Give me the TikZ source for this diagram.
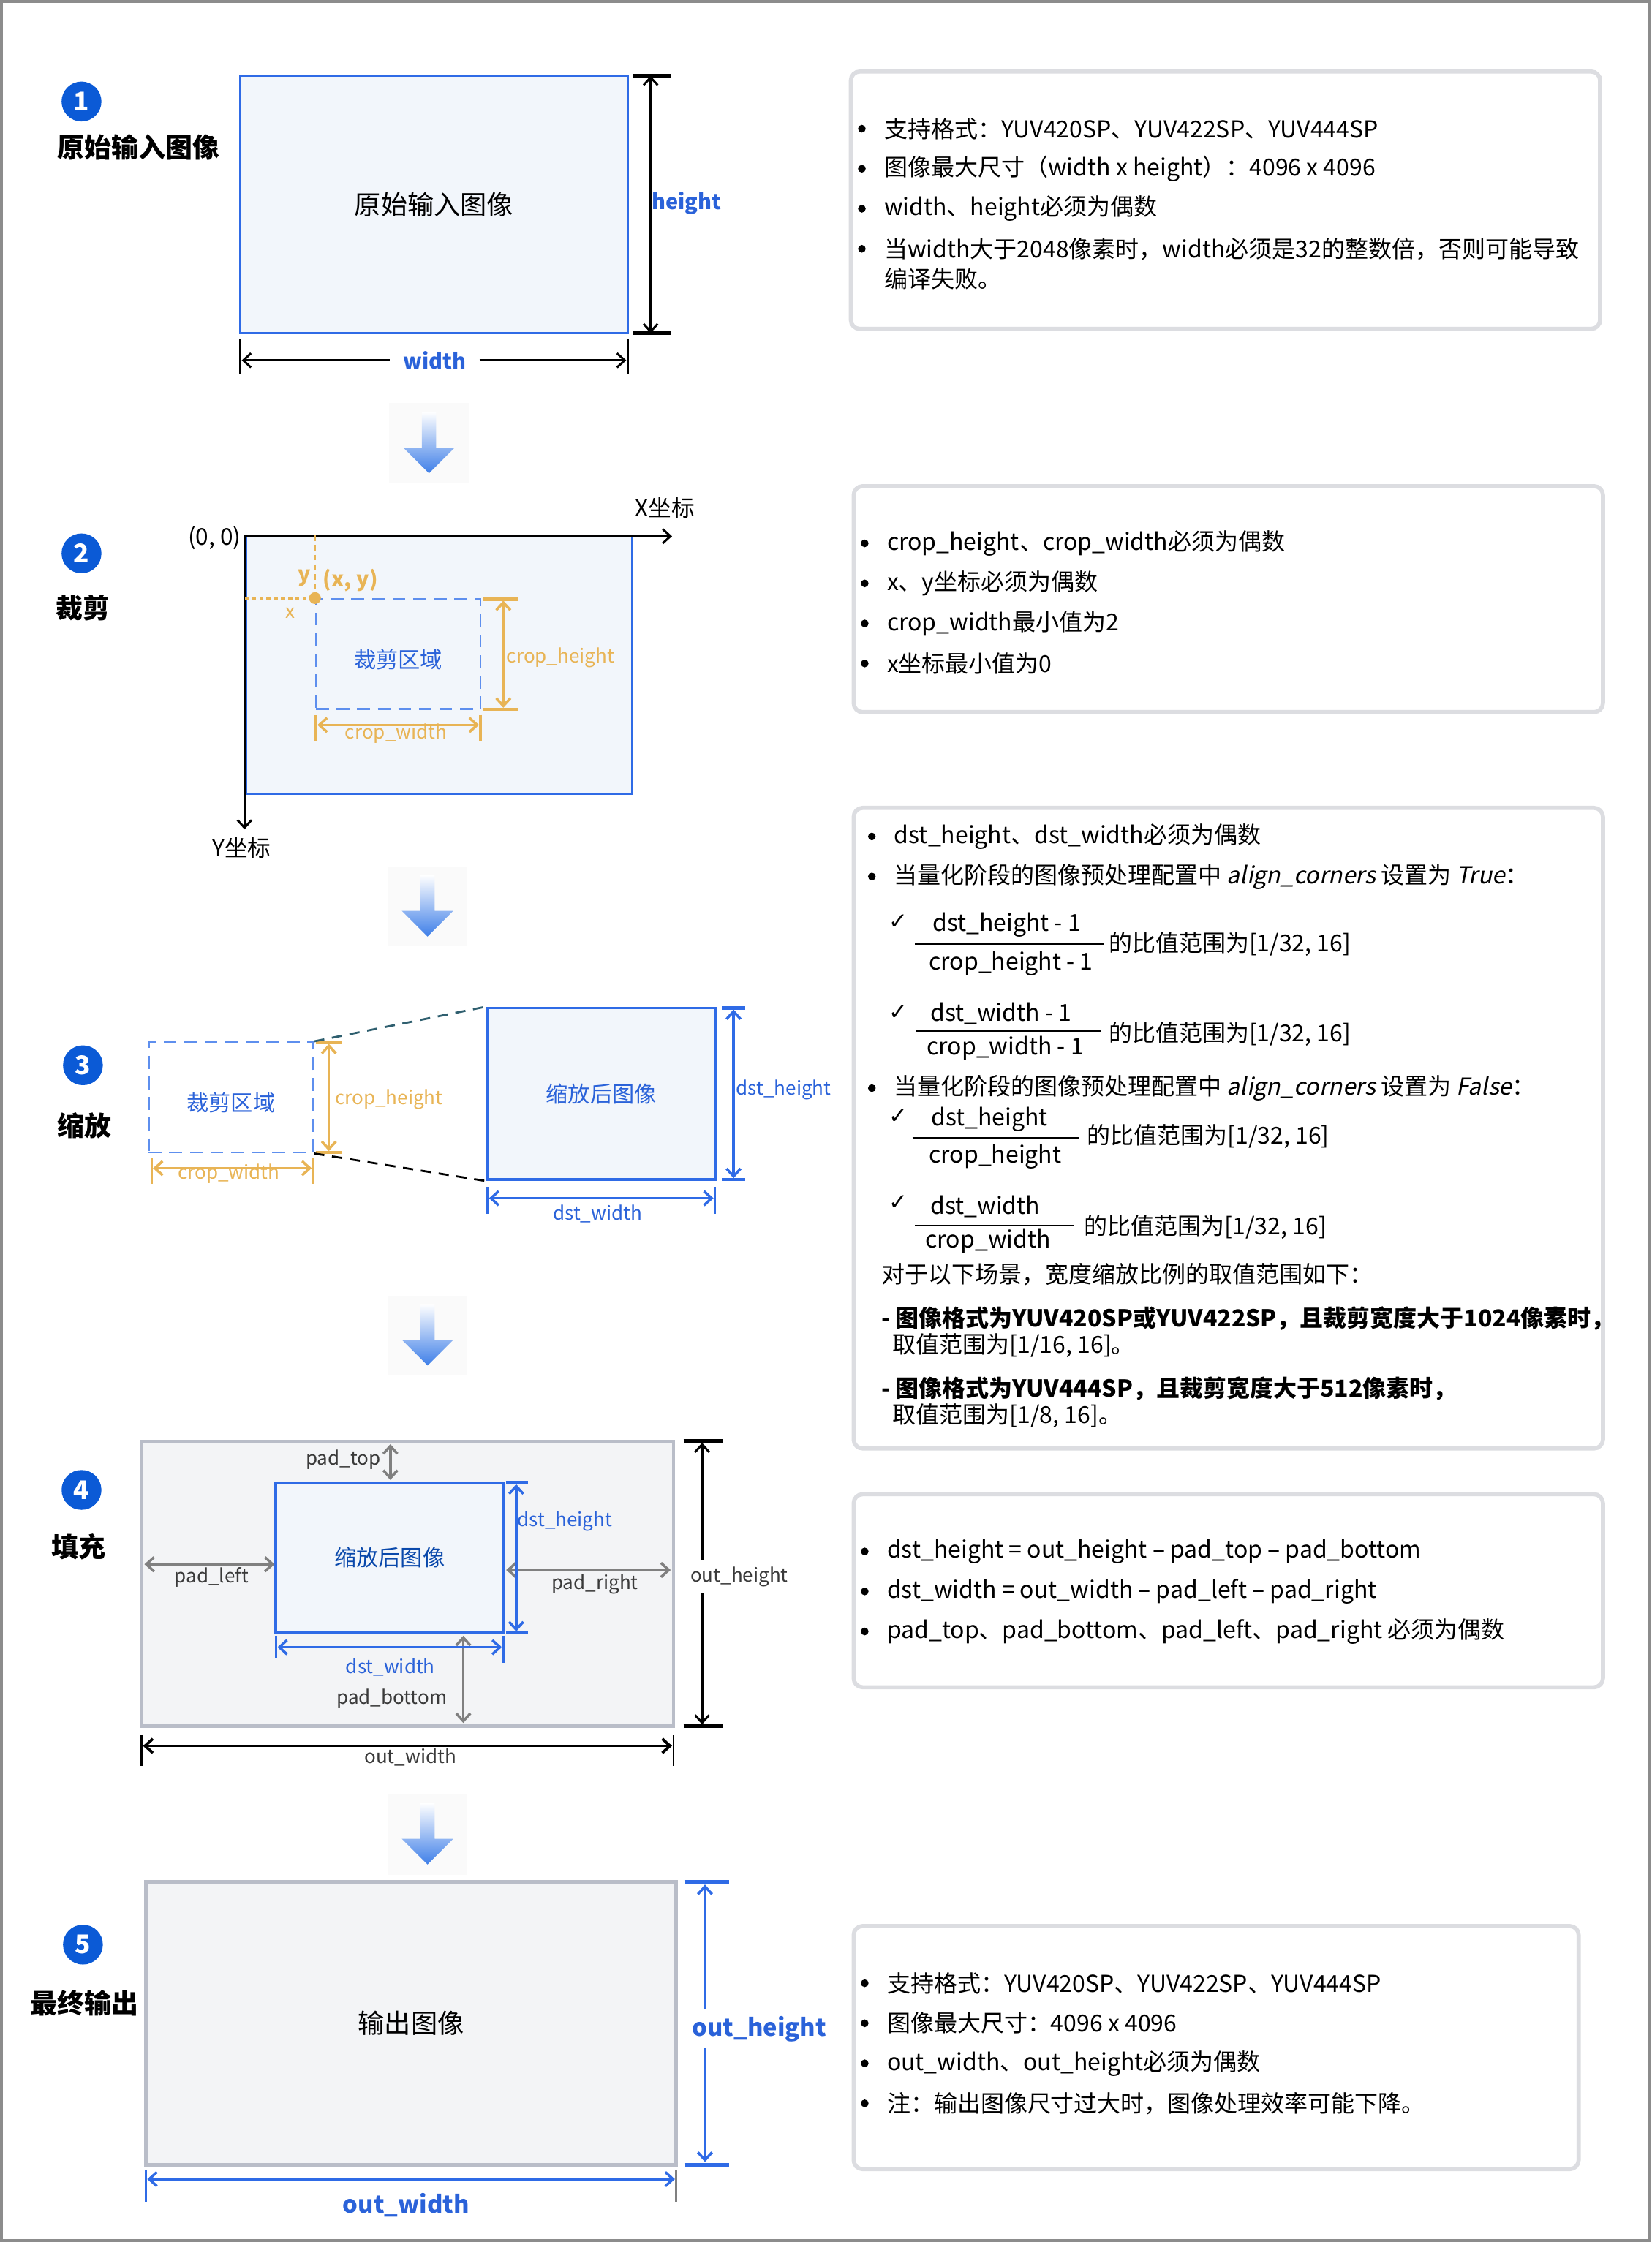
\documentclass[tikz,border=0pt]{standalone}
\usepackage{fontspec}
\setmainfont{Noto Sans CJK SC}[AutoFakeSlant=0.2]
\newfontfamily\symfont{DejaVu Sans}
\usepackage{tikz}
\usetikzlibrary{arrows.meta,calc,fit,positioning}
\definecolor{imgblue}{HTML}{2F6BE6}
\definecolor{imgfill}{HTML}{F2F6FB}
\definecolor{txtblue}{HTML}{2A62D9}
\definecolor{cropdash}{HTML}{5E8FEE}
\definecolor{cropor}{HTML}{E8B455}
\definecolor{padfill}{HTML}{F3F4F6}
\definecolor{padline}{HTML}{B9BDC8}
\definecolor{padarrow}{HTML}{808080}
\definecolor{padtext}{HTML}{3A3A3A}
\definecolor{notegrey}{HTML}{DCDDE1}
\definecolor{stepblue}{HTML}{0B5AD6}
\definecolor{flowblue}{HTML}{3F7FE8}
\definecolor{framegrey}{HTML}{8C8C8C}
\definecolor{tealdash}{HTML}{2F5F6F}
\newcommand\notefont{\fontsize{9.1}{12}\selectfont}
\newcommand\boxfont{\fontsize{10.3}{12}\selectfont}
\newcommand\dimfont{\fontsize{7.4}{9}\selectfont}
\tikzset{
    barbs/.style={arrows={Straight Barb[length=3pt,width=5.5pt]-Straight Barb[length=3pt,width=5.5pt]}},
    barbend/.style={arrows={-Straight Barb[length=3pt,width=5.5pt]}},
    frameline/.style={draw=framegrey, line width=1.1pt},
    stepnum/.style={circle, fill=stepblue, text=white, inner sep=0, minimum size=15.5pt, font=\fontsize{10}{10}\selectfont\bfseries},
    steplbl/.style={font=\fontsize{10.5}{12}\selectfont\bfseries},
    imgbox/.style={draw=imgblue, fill=imgfill, line width=0.8pt, inner sep=0},
    greybox/.style={draw=padline, fill=padfill, line width=1.4pt, inner sep=0},
    cropbox/.style={draw=cropdash, line width=0.8pt, dash pattern=on 5pt off 3pt, inner sep=0},
    notebox/.style={draw=notegrey, line width=1.6pt, rounded corners=3.5pt, fill=white, inner sep=0},
    note/.style={anchor=west, inner sep=0, font=\notefont},
    bulletline/.style={note, label={[circle, fill, inner sep=0, minimum size=3pt, xshift=-6.8pt]left:{}}},
    fracpart/.style={inner sep=0, font=\notefont},
    fracbar/.style={draw, line width=0.6pt},
    checkmk/.style={inner sep=0, font=\symfont\fontsize{8.8}{9}\selectfont},
    midtxt/.style={font=\boxfont},
    plaintxt/.style={font=\fontsize{9}{10}\selectfont},
    dimtxt/.style={font=\dimfont, inner sep=1pt},
    dimbold/.style={font=\fontsize{8.2}{10}\selectfont\bfseries, inner sep=1pt},
    blkline/.style={draw=black, line width=0.85pt},
    blktick/.style={draw=black, line width=1.5pt},
    blkthin/.style={draw=black, line width=0.7pt},
    orline/.style={draw=cropor, line width=1pt},
    blueline/.style={draw=imgblue, line width=1pt},
    bluetick/.style={draw=imgblue, line width=1.3pt},
    padarr/.style={draw=padarrow, line width=1pt, barbs},
    flowdown/.pic={
        \fill[black!2] (-28,-28) rectangle (28,28);
        \shade[top color=white, middle color=flowblue!75, bottom color=flowblue]
            (-5,-22) -- (5,-22) -- (5,3) -- (18,3) -- (0,21) -- (-18,3) -- (-5,3) -- cycle;
    }
}

\begin{document}
\begin{tikzpicture}[x=0.019554cm, y=-0.019554cm]
  \useasboundingbox (0,0) rectangle (1154.8,1568);
  \draw[frameline] (1,1) rectangle (1153.8,1567);

  % step 1: input image
  \node[stepnum] (num1) at (57,71) {1};
  \node[steplbl] (lbl1) at (97,103) {原始输入图像};
  \node[imgbox, fit={(168,53) (439,233)}] (img1) {};
  \node[midtxt] (txt1) at (img1.center) {原始输入图像};
  \coordinate (h1t) at (455,53);
  \coordinate (h1b) at (455,233);
  \draw[blktick] (443,53) -- (469,53);
  \draw[blktick] (443,233) -- (469,233);
  \draw[blkline, barbs] (h1t) -- (h1b);
  \node[dimbold, text=txtblue] (h1) at (480,142) {height};
  \coordinate (w1l) at (169,252);
  \coordinate (w1r) at (438,252);
  \draw[blkthin] (168,237) -- (168,262);
  \draw[blkthin] (439,237) -- (439,262);
  \node[dimbold, text=txtblue, inner xsep=5pt] (w1) at (304,252) {width};
  \draw[blkline, barbend] (w1) -- (w1l);
  \draw[blkline, barbend] (w1) -- (w1r);

  \node[notebox, fit={(595,50) (1119,230)}] (nb1) {};
  \node[bulletline] (nb1a) at (618,90) {支持格式：YUV420SP、YUV422SP、YUV444SP};
  \node[bulletline] (nb1b) at (618,118) {图像最大尺寸（width x height）：4096 x 4096};
  \node[bulletline] (nb1c) at (618,146) {width、height必须为偶数};
  \node[bulletline] (nb1d) at (618,174) {当width大于2048像素时，width必须是32的整数倍，否则可能导致};
  \node[note] (nb1e) at (618,195) {编译失败。};

  \pic at (300,310) {flowdown};

  % step 2: crop
  \node[stepnum] (num2) at (57,387) {2};
  \node[steplbl] (lbl2) at (58,425) {裁剪};
  \node[imgbox, fit={(172,375) (442,555)}] (img2) {};
  \coordinate (orig) at (171,375);
  \coordinate (xend) at (470,375);
  \coordinate (yend) at (171,580);
  \draw[blkline, barbend] (orig) -- (xend);
  \draw[blkline, barbend] (orig) -- (yend);
  \node[plaintxt] (xlbl) at (465,355) {X坐标};
  \node[plaintxt] (ylbl) at (169,593) {Y坐标};
  \node[plaintxt] (olbl) at (150,376) {(0, 0)};
  \node[cropbox, fit={(221,419) (336,496)}] (crop2) {};
  \node[midtxt, font=\fontsize{8.6}{10}\selectfont, text=txtblue] (ctxt2) at ([yshift=-2pt]crop2.center) {裁剪区域};
  \draw[draw=cropor, line width=1.1pt, dash pattern=on 1.6pt off 1.2pt] (img2.west |- crop2.north west) -- (crop2.north west);
  \draw[draw=cropor, line width=0.7pt, dash pattern=on 2.2pt off 1.6pt] (crop2.north west |- img2.north) -- (crop2.north west);
  \fill[cropor] (crop2.north west) circle (2.3pt);
  \node[dimbold, text=cropor] (ylab2) at (213,404) {y};
  \node[dimbold, text=cropor] (xylab2) at (245,406) {(x, y)};
  \node[dimtxt, text=cropor] (xlab2) at (203,429) {x};
  \draw[orline, line width=1.3pt] (338,419) -- (362,419);
  \draw[orline, line width=1.3pt] (338,496) -- (362,496);
  \coordinate (ch2t) at (352,420);
  \coordinate (ch2b) at (352,495);
  \draw[orline, barbs] (ch2t) -- (ch2b);
  \node[dimtxt, text=cropor] (ch2) at (392,460) {crop\_height};
  \draw[orline] (221,500) -- (221,518);
  \draw[orline] (336,500) -- (336,518);
  \coordinate (cw2l) at (222,507);
  \coordinate (cw2r) at (335,507);
  \draw[orline, barbs] (cw2l) -- (cw2r);
  \node[dimtxt, text=cropor] (cw2) at (277,513) {crop\_width};

  \node[notebox, fit={(597,340) (1121,498)}] (nb2) {};
  \node[bulletline] (nb2a) at (620,380) {crop\_height、crop\_width必须为偶数};
  \node[bulletline] (nb2b) at (620,408) {x、y坐标必须为偶数};
  \node[bulletline] (nb2c) at (620,436) {crop\_width最小值为2};
  \node[bulletline] (nb2d) at (620,464) {x坐标最小值为0};

  \pic at (299,634) {flowdown};

  % step 3: resize
  \node[stepnum] (num3) at (58,745) {3};
  \node[steplbl] (lbl3) at (59,787) {缩放};
  \node[cropbox, fit={(104,729) (219,806)}] (crop3) {};
  \node[midtxt, font=\fontsize{8.6}{10}\selectfont, text=txtblue] (ctxt3) at ([yshift=-2pt]crop3.center) {裁剪区域};
  \draw[orline, line width=1.3pt] (221,729) -- (239,729);
  \draw[orline, line width=1.3pt] (221,806) -- (239,806);
  \coordinate (ch3t) at (230,730);
  \coordinate (ch3b) at (230,805);
  \draw[orline, barbs] (ch3t) -- (ch3b);
  \node[dimtxt, text=cropor] (ch3) at (272,769) {crop\_height};
  \draw[orline] (106,810) -- (106,828);
  \draw[orline] (219,810) -- (219,828);
  \coordinate (cw3l) at (107,817);
  \coordinate (cw3r) at (218,817);
  \draw[orline, barbs] (cw3l) -- (cw3r);
  \node[dimtxt, text=cropor] (cw3) at (160,821) {crop\_width};
  \node[imgbox, line width=1.1pt, fit={(341,705) (500,825)}] (sc3) {};
  \node[midtxt, font=\fontsize{8.6}{10}\selectfont, text=txtblue] (stxt3) at (sc3.center) {缩放后图像};
  \draw[tealdash, line width=0.8pt, dash pattern=on 4pt off 3pt] (crop3.north east) -- (sc3.north west);
  \draw[black, line width=0.8pt, dash pattern=on 4pt off 3pt] (crop3.south east) -- (sc3.south west);
  \draw[bluetick] (505,705) -- (521,705);
  \draw[bluetick] (505,825) -- (521,825);
  \coordinate (dh3t) at (513,706);
  \coordinate (dh3b) at (513,824);
  \draw[blueline, barbs] (dh3t) -- (dh3b);
  \node[dimtxt, text=txtblue] (dh3) at (548,762) {dst\_height};
  \draw[blueline] (341,830) -- (341,849);
  \draw[blueline] (500,830) -- (500,849);
  \coordinate (dw3l) at (342,838);
  \coordinate (dw3r) at (499,838);
  \draw[blueline, barbs] (dw3l) -- (dw3r);
  \node[dimtxt, text=txtblue] (dw3) at (418,849) {dst\_width};

  \node[notebox, fit={(597,565) (1121,1013)}] (nb3) {};
  \node[bulletline] (nb3a) at (625,585) {dst\_height、dst\_width必须为偶数};
  \node[bulletline] (nb3b) at (625,613) {当量化阶段的图像预处理配置中 \textit{align\_corners} 设置为 \textit{True}：};
  \node[checkmk] (ck1) at (628,645) {✓};
  \node[fracpart] (fn1) at (704,647) {dst\_height - 1};
  \coordinate (fb1l) at (640,660);
  \coordinate (fb1r) at (772,660);
  \draw[fracbar] (fb1l) -- (fb1r);
  \node[fracpart] (fd1) at (707,674) {crop\_height - 1};
  \node[note] (fr1) at (775,660) {的比值范围为[1/32, 16]};
  \node[checkmk] (ck2) at (628,708) {✓};
  \node[fracpart] (fn2) at (700,709) {dst\_width - 1};
  \coordinate (fb2l) at (641,721);
  \coordinate (fb2r) at (770,721);
  \draw[fracbar] (fb2l) -- (fb2r);
  \node[fracpart] (fd2) at (703,733) {crop\_width - 1};
  \node[note] (fr2) at (775,723) {的比值范围为[1/32, 16]};
  \node[bulletline] (nb3c) at (625,761) {当量化阶段的图像预处理配置中 \textit{align\_corners} 设置为 \textit{False}：};
  \node[checkmk] (ck3) at (628,781) {✓};
  \node[fracpart] (fn3) at (692,783) {dst\_height};
  \coordinate (fb3l) at (638,796);
  \coordinate (fb3r) at (755,796);
  \draw[fracbar] (fb3l) -- (fb3r);
  \node[fracpart] (fd3) at (696,809) {crop\_height};
  \node[note] (fr3) at (760,795) {的比值范围为[1/32, 16]};
  \node[checkmk] (ck4) at (628,841) {✓};
  \node[fracpart] (fn4) at (689,844) {dst\_width};
  \coordinate (fb4l) at (640,857);
  \coordinate (fb4r) at (751,857);
  \draw[fracbar] (fb4l) -- (fb4r);
  \node[fracpart] (fd4) at (691,868) {crop\_width};
  \node[note] (fr4) at (758,858) {的比值范围为[1/32, 16]};
  \node[note] (nb3d) at (616,891) {对于以下场景，宽度缩放比例的取值范围如下：};
  \node[note, font=\notefont\bfseries] (nb3e) at (616,922) {- 图像格式为YUV420SP或YUV422SP，且裁剪宽度大于1024像素时，};
  \node[note] (nb3f) at (624,941) {取值范围为[1/16, 16]。};
  \node[note, font=\notefont\bfseries] (nb3g) at (616,971) {- 图像格式为YUV444SP，且裁剪宽度大于512像素时，};
  \node[note] (nb3h) at (624,990) {取值范围为[1/8, 16]。};

  \pic at (299,934) {flowdown};

  % step 4: padding
  \node[stepnum] (num4) at (57,1042) {4};
  \node[steplbl] (lbl4) at (55,1082) {填充};
  \node[greybox, fit={(99,1008) (471,1207)}] (pad4) {};
  \node[imgbox, line width=1.1pt, fit={(193,1037) (352,1142)}] (sc4) {};
  \node[midtxt, font=\fontsize{8.6}{10}\selectfont, text=stepblue!80!black] (stxt4) at (sc4.center) {缩放后图像};
  \coordinate (pt4a) at (273,1010);
  \coordinate (pt4b) at (273,1035);
  \draw[padarr] (pt4a) -- (pt4b);
  \node[dimtxt, text=padtext] (pt4) at (240,1021) {pad\_top};
  \coordinate (pl4a) at (101,1094);
  \coordinate (pl4b) at (192,1094);
  \draw[padarr] (pl4a) -- (pl4b);
  \node[dimtxt, text=padtext] (pl4) at (148,1103) {pad\_left};
  \coordinate (pr4a) at (354,1098);
  \coordinate (pr4b) at (469,1098);
  \draw[padarr] (pr4a) -- (pr4b);
  \node[dimtxt, text=padtext] (pr4) at (416,1108) {pad\_right};
  \coordinate (pb4a) at (324,1144);
  \coordinate (pb4b) at (324,1205);
  \draw[padarr] (pb4a) -- (pb4b);
  \node[dimtxt, text=padtext] (pb4) at (274,1188) {pad\_bottom};
  \draw[bluetick] (354,1037) -- (369,1037);
  \draw[bluetick] (354,1142) -- (369,1142);
  \coordinate (dh4t) at (361,1038);
  \coordinate (dh4b) at (361,1141);
  \draw[blueline, barbs] (dh4t) -- (dh4b);
  \node[dimtxt, text=txtblue] (dh4) at (395,1064) {dst\_height};
  \draw[blueline] (193,1144) -- (193,1160);
  \draw[blueline] (352,1144) -- (352,1163);
  \coordinate (dw4l) at (194,1152);
  \coordinate (dw4r) at (351,1152);
  \draw[blueline, barbs] (dw4l) -- (dw4r);
  \node[dimtxt, text=txtblue] (dw4) at (273,1166) {dst\_width};
  \draw[blktick] (478,1008) -- (506,1008);
  \draw[blktick] (478,1207) -- (506,1207);
  \coordinate (oh4t) at (491,1009);
  \coordinate (oh4b) at (491,1206);
  \draw[blkline, barbs] (oh4t) -- (oh4b);
  \node[dimtxt, text=padtext, fill=white, inner ysep=2.5pt] (oh4) at (517,1103) {out\_height};
  \draw[blkthin] (99,1213) -- (99,1235);
  \draw[blkthin] (471,1213) -- (471,1235);
  \coordinate (ow4l) at (100,1221);
  \coordinate (ow4r) at (470,1221);
  \draw[blkline, line width=1.1pt, barbs] (ow4l) -- (ow4r);
  \node[dimtxt, text=padtext] (ow4) at (287,1229) {out\_width};

  \node[notebox, fit={(597,1045) (1121,1180)}] (nb4) {};
  \node[bulletline] (nb4a) at (620,1085) {dst\_height = out\_height – pad\_top – pad\_bottom};
  \node[bulletline] (nb4b) at (620,1113) {dst\_width = out\_width – pad\_left – pad\_right};
  \node[bulletline] (nb4c) at (620,1141) {pad\_top、pad\_bottom、pad\_left、pad\_right 必须为偶数};

  \pic at (299,1283) {flowdown};

  % step 5: output
  \node[stepnum] (num5) at (58,1360) {5};
  \node[steplbl] (lbl5) at (59,1401) {最终输出};
  \node[greybox, fit={(102,1316) (473,1514)}] (out5) {};
  \node[midtxt] (otxt5) at (out5.center) {输出图像};
  \draw[bluetick] (479,1316) -- (510,1316);
  \draw[bluetick] (479,1514) -- (510,1514);
  \coordinate (oh5t) at (493,1318);
  \coordinate (oh5b) at (493,1512);
  \draw[blueline, barbs] (oh5t) -- (oh5b);
  \node[dimbold, font=\fontsize{9.3}{11}\selectfont\bfseries, text=txtblue, fill=white, inner ysep=2.5pt] (oh5) at (531,1419) {out\_height};
  \draw[blueline] (102,1518) -- (102,1540);
  \draw[draw=padarrow, line width=0.8pt] (473,1518) -- (473,1540);
  \coordinate (ow5l) at (103,1524);
  \coordinate (ow5r) at (472,1524);
  \draw[blueline, barbs] (ow5l) -- (ow5r);
  \node[dimbold, font=\fontsize{9.3}{11}\selectfont\bfseries, text=txtblue] (ow5) at (284,1542) {out\_width};

  \node[notebox, fit={(597,1347) (1104,1517)}] (nb5) {};
  \node[bulletline] (nb5a) at (620,1387) {支持格式：YUV420SP、YUV422SP、YUV444SP};
  \node[bulletline] (nb5b) at (620,1415) {图像最大尺寸：4096 x 4096};
  \node[bulletline] (nb5c) at (620,1443) {out\_width、out\_height必须为偶数};
  \node[bulletline] (nb5d) at (620,1471) {注：输出图像尺寸过大时，图像处理效率可能下降。};
\end{tikzpicture}
\end{document}
